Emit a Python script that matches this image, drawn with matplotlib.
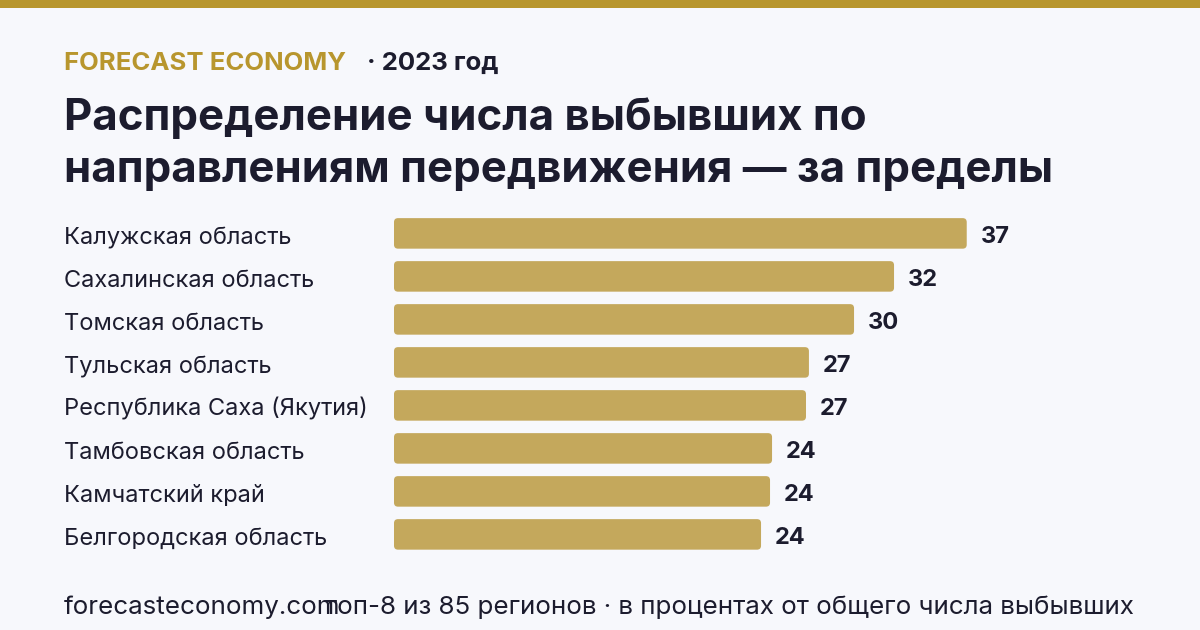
import matplotlib
matplotlib.use("Agg")
import matplotlib.pyplot as plt
import matplotlib.transforms as mtransforms
from matplotlib.patches import FancyBboxPatch, Rectangle

plt.rcParams['font.family'] = ['Inter', 'DejaVu Sans']

# ---- data ----
regions = [
    "Калужская область",
    "Сахалинская область",
    "Томская область",
    "Тульская область",
    "Республика Саха (Якутия)",
    "Тамбовская область",
    "Камчатский край",
    "Белгородская область",
]
values = [36.95, 32.26, 29.68, 26.77, 26.58, 24.39, 24.26, 23.68]

brand = "FORECAST ECONOMY"
year_label = "· 2023 год"
title_lines = ["Распределение числа выбывших по",
               "направлениям передвижения — за пределы"]
source = "forecasteconomy.com"
note = "топ-8 из 85 регионов · в процентах от общего числа выбывших"

# ---- style ----
BG = "#f7f8fc"
GOLD = "#b8962e"
BAR = "#c4a85c"
DARK = "#1c1c2e"

W, H = 1200, 630
fig = plt.figure(figsize=(W / 100, H / 100), dpi=100, facecolor=BG)

def fx(px):
    return px / W

def fy(py):
    return 1 - py / H

PT = 0.72  # points per pixel at 100 dpi

# top band
fig.patches.append(Rectangle((0, fy(8)), 1, 8 / H, transform=fig.transFigure,
                             facecolor=GOLD, edgecolor="none"))

# header
fig.text(fx(64), fy(70), brand, color=GOLD, fontsize=18.5, fontweight="bold",
         va="baseline", ha="left")
fig.text(fx(367), fy(70), year_label, color=DARK, fontsize=18.5, fontweight="bold",
         va="baseline", ha="left")

# title
fig.text(fx(64), fy(130), title_lines[0], color=DARK, fontsize=31.5,
         fontweight="bold", va="baseline", ha="left")
fig.text(fx(64), fy(182), title_lines[1], color=DARK, fontsize=31.5,
         fontweight="bold", va="baseline", ha="left")

# footer
fig.text(fx(64), fy(614), source, color=DARK, fontsize=18.7, va="baseline", ha="left")
fig.text(fx(325), fy(614), note, color=DARK, fontsize=18.7, va="baseline", ha="left")

# ---- bars ----
px_per_unit = 15.5
pitch = 43.0
ax_left_px = 394
ax_w_px = 760
ax_top_px = 233.4 - pitch / 2
ax_h_px = pitch * len(regions)
ax = fig.add_axes([fx(ax_left_px), fy(ax_top_px + ax_h_px), ax_w_px / W, ax_h_px / H])
ax.set_facecolor("none")
ax.set_xlim(0, ax_w_px / px_per_unit)
ax.set_ylim(len(regions) - 0.5, -0.5)
ax.axis("off")

ypos = list(range(len(regions)))
bars = ax.barh(ypos, values, height=0.71, color=BAR, left=0)
r_px = 4.0
aspect = (1 / pitch) / (1 / px_per_unit)
for b in bars:
    x0, y0 = b.get_x(), b.get_y()
    w, h = b.get_width(), b.get_height()
    b.set_visible(False)
    fp = FancyBboxPatch((x0, y0), w, h,
                        boxstyle=f"round,pad=0,rounding_size={r_px / px_per_unit}",
                        mutation_aspect=aspect, facecolor=BAR, edgecolor="none")
    ax.add_patch(fp)

for y, v in zip(ypos, values):
    ax.annotate(f"{round(v):d}", xy=(v, y), xytext=(14 * PT, -10 * PT),
                textcoords="offset points", va="baseline", ha="left",
                fontsize=17, fontweight="bold", color=DARK)

trans = mtransforms.blended_transform_factory(fig.transFigure, ax.transData)
for y, name in zip(ypos, regions):
    ax.annotate(name, xy=(fx(64), y), xycoords=trans, xytext=(0, -10.6 * PT),
                textcoords="offset points", va="baseline", ha="left",
                fontsize=17, color=DARK)

fig.savefig("out.png", dpi=100, facecolor=BG)
